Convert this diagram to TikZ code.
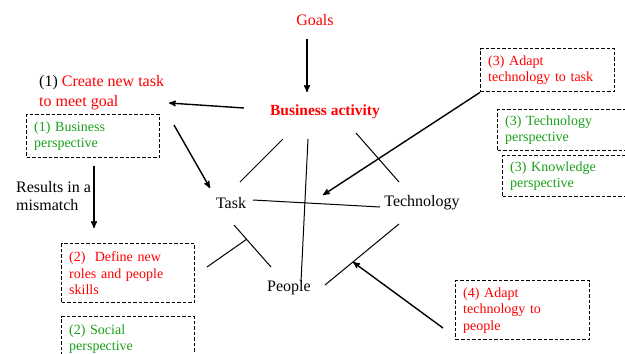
\documentclass[tikz,border=0pt]{standalone}
\usepackage{fontspec}
\setmainfont{Liberation Serif}
\usetikzlibrary{arrows}
\definecolor{goalred}{RGB}{255,0,0}
\definecolor{viewgreen}{RGB}{25,160,25}

\begin{document}
\begin{tikzpicture}[x=1pt,y=-1pt,>=stealth',
    big/.style={inner sep=0pt,font=\fontsize{16}{20}\selectfont},
    dbox/.style={draw=black,dashed,dash pattern=on 3.5pt off 2pt,line width=1.4pt,anchor=north west,align=left,
        inner xsep=7.5pt,inner ysep=0pt,font=\fontsize{14}{16.5}\selectfont},
    arr/.style={->,line width=1.4pt},
    link/.style={line width=1pt}]

    \clip (0,0) rectangle (625,354);

    \node[big,goalred] (goals) at (315,20) {Goals};
    \node[big,goalred,font=\fontsize{15.5}{18}\selectfont\bfseries] (bact) at (325,112) {Business activity};
    \node[big] (task) at (231,203) {Task};
    \node[big] (tech) at (422,203) {Technology};
    \node[big] (people) at (289,288) {People};
    \node[big,anchor=west,align=left] (newtask) at (39,93) {(1) \textcolor{goalred}{Create new task}\\\textcolor{goalred}{to meet goal}};
    \node[big,anchor=west,align=left,font=\fontsize{16}{18}\selectfont] (mismatch) at (16,196) {Results in a\\mismatch};

    \node[dbox,text=viewgreen,text width=118pt,minimum height=43pt] (busp) at (26,114) {(1) Business\\perspective};
    \node[dbox,text=goalred,text width=118pt,minimum height=59pt] (roles) at (61,243) {(2)~ Define new\\roles and people\\skills};
    \node[dbox,text=viewgreen,text width=118pt,minimum height=45pt] (socp) at (61,316) {(2) Social\\perspective};
    \node[dbox,text=goalred,text width=119pt,minimum height=43pt] (adtask) at (480,48) {(3) Adapt\\technology to task};
    \node[dbox,text=viewgreen,text width=125pt,minimum height=41pt] (techp) at (497,109) {(3) Technology\\perspective};
    \node[dbox,text=viewgreen,text width=125pt,minimum height=41pt] (knowp) at (502,155) {(3) Knowledge\\perspective};
    \node[dbox,text=goalred,text width=119pt,minimum height=59pt] (adpeople) at (455,280) {(4) Adapt\\technology to\\people};

    % arrow ends
    \coordinate (g1) at (307,39);   \coordinate (g2) at (307,92);
    \coordinate (n1) at (244,108);  \coordinate (n2) at (169,103);
    \coordinate (k1) at (174,125);  \coordinate (k2) at (210,188);
    \coordinate (m1) at (94,166);   \coordinate (m2) at (94,228);
    \coordinate (h2) at (323,195);
    \coordinate (p1) at (443,328);  \coordinate (p2) at (353,262);

    % line ends
    \coordinate (bt1) at (283,139); \coordinate (bt2) at (240,182);
    \coordinate (bp1) at (308,139); \coordinate (bp2) at (301,282);
    \coordinate (bh1) at (356,133); \coordinate (bh2) at (399,182);
    \coordinate (th1) at (253,200); \coordinate (th2) at (380,207);
    \coordinate (tp1) at (234,225); \coordinate (tp2) at (271,267);
    \coordinate (rx1) at (207,267); \coordinate (rx2) at (247,239);
    \coordinate (hp1) at (399,224); \coordinate (hp2) at (325,285);

    \draw[arr] (g1) -- (g2);
    \draw[arr] (n1) -- (n2);
    \draw[arr] (k1) -- (k2);
    \draw[arr] (m1) -- (m2);
    \draw[arr] (adtask.south west) -- (h2);
    \draw[arr] (p1) -- (p2);

    \draw[link] (bt1) -- (bt2) (bp1) -- (bp2) (bh1) -- (bh2) (th1) -- (th2)
        (tp1) -- (tp2) (rx1) -- (rx2) (hp1) -- (hp2);

\end{tikzpicture}
\end{document}
